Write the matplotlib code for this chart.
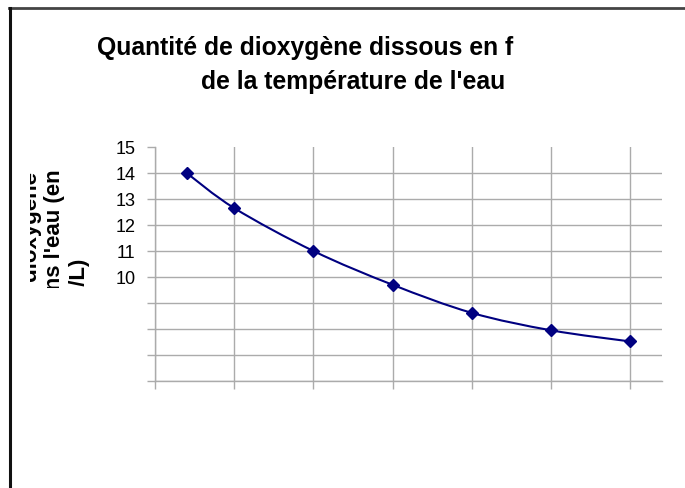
import matplotlib
matplotlib.use("Agg")
import matplotlib.pyplot as plt
import numpy as np
from matplotlib.path import Path
from matplotlib.patches import PathPatch
from matplotlib.lines import Line2D
from matplotlib.transforms import Bbox

# data
temperature = [2, 5, 10, 15, 20, 25, 30]
oxygen = [14.0, 12.65, 11.0, 9.7, 8.62, 7.95, 7.52]
x_ticks = [0, 5, 10, 15, 20, 25, 30]
y_ticks = [6, 7, 8, 9, 10, 11, 12, 13, 14, 15]
y_labels = ['', '', '', '', '10', '11', '12', '13', '14', '15']
title_1 = "Quantité de dioxygène dissous en f"
title_2 = "de la température de l'eau"
ylabel_lines = ["Quantité de dioxygène", "dissous dans l'eau (en", "mg/L)"]

W, H = 685, 488
plt.rcParams['font.family'] = ['Liberation Sans', 'DejaVu Sans']
fig = plt.figure(figsize=(W / 100, H / 100), dpi=100)
fig.patch.set_facecolor('white')

ax = fig.add_axes([155 / W, 1 - 381 / H, (662 - 155) / W, (381 - 147) / H])
ax.set_xlim(0, 32)
ax.set_ylim(6, 15)
grid_c = '#ababab'
ax.set_xticks(x_ticks)
ax.set_xticklabels([])
ax.set_yticks(y_ticks)
ax.set_yticklabels(y_labels, fontsize=13)
ax.tick_params(axis='both', length=6, width=1, color=grid_c, pad=8)
ax.tick_params(axis='x', labelbottom=False)
ax.grid(True, color=grid_c, linewidth=1)
ax.set_axisbelow(True)
for s in ['top', 'right']:
    ax.spines[s].set_visible(False)
for s in ['left', 'bottom']:
    ax.spines[s].set_color(grid_c)
    ax.spines[s].set_linewidth(1)
ax.yaxis.get_gridlines()[-1].set_visible(False)

# smoothed line (Catmull-Rom as bezier segments)
xs = np.array(temperature, dtype=float)
ys = np.array(oxygen, dtype=float)
verts = [(xs[0], ys[0])]
codes = [Path.MOVETO]
n = len(xs)
for i in range(n - 1):
    p0 = np.array([xs[max(i - 1, 0)], ys[max(i - 1, 0)]])
    p1 = np.array([xs[i], ys[i]])
    p2 = np.array([xs[i + 1], ys[i + 1]])
    p3 = np.array([xs[min(i + 2, n - 1)], ys[min(i + 2, n - 1)]])
    c1 = p1 + (p2 - p0) / 6
    c2 = p2 - (p3 - p1) / 6
    verts += [tuple(c1), tuple(c2), tuple(p2)]
    codes += [Path.CURVE4] * 3
ax.add_patch(PathPatch(Path(verts, codes), facecolor='none',
                       edgecolor='#000080', linewidth=1.5, zorder=3))
ax.plot(temperature, oxygen, linestyle='none', marker='D', markersize=6,
        color='#000080', zorder=4)

# title (clipped in the original)
fig.text(97 / W, 1 - 55 / H, title_1, fontsize=17.8, fontweight='bold',
         ha='left', va='baseline')
fig.text(201 / W, 1 - 89 / H, title_2, fontsize=17.8, fontweight='bold',
         ha='left', va='baseline')

# y label, clipped like the reference
clip = Bbox.from_extents(30, H - 288, 110, H - 160)
anchors = [(37, 172), (60, 169), (84, 257)]
for txt, (px, py) in zip(ylabel_lines, anchors):
    t = fig.text(px / W, 1 - py / H, txt, fontsize=16, fontweight='bold',
                 rotation=90, rotation_mode='anchor', ha='right', va='baseline')
    t.set_clip_box(clip)
    t.set_clip_on(True)

# outer frame (only top and left visible)
fig.add_artist(Line2D([9 / W, 1], [1 - 8 / H, 1 - 8 / H], color='#444444',
                      linewidth=2, transform=fig.transFigure))
fig.add_artist(Line2D([9.5 / W, 9.5 / W], [0, 1 - 8 / H], color='#111111',
                      linewidth=2.2, transform=fig.transFigure))

fig.savefig('out.png', dpi=100)
